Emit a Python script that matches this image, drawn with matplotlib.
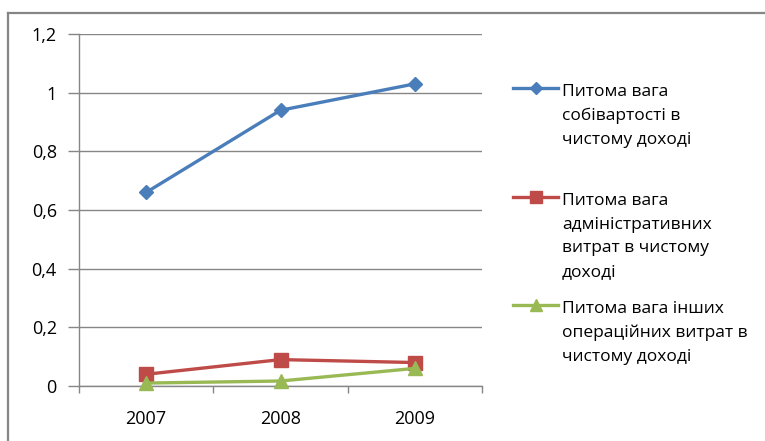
import matplotlib
matplotlib.use("Agg")
import matplotlib.pyplot as plt
from matplotlib.lines import Line2D
from matplotlib.ticker import FixedLocator, FuncFormatter

plt.rcParams['font.family'] = ['Open Sans', 'DejaVu Sans']

years = ["2007", "2008", "2009"]
cost_share = [0.66, 0.94, 1.03]
admin_share = [0.04, 0.09, 0.08]
other_share = [0.01, 0.017, 0.06]
series_labels = [
    "Питома вага\nсобівартості в\nчистому доході",
    "Питома вага\nадміністративних\nвитрат в чистому\nдоході",
    "Питома вага інших\nопераційних витрат в\nчистому доході",
]
y_ticks = [0, 0.2, 0.4, 0.6, 0.8, 1.0, 1.2]

W, H = 765, 441
fig = plt.figure(figsize=(W / 100, H / 100), dpi=100)

def fx(px):
    return px / W

def fy(py):
    return 1 - py / H

# outer chart frame (top and left edges)
grey = "#868686"
fig.add_artist(Line2D([fx(8), fx(8)], [fy(13), fy(441)], color=grey, lw=1.6,
                      transform=fig.transFigure))
fig.add_artist(Line2D([fx(8), fx(765)], [fy(13), fy(13)], color=grey, lw=1.6,
                      transform=fig.transFigure))

left, right, top, bottom = 79, 482, 34, 386
ax = fig.add_axes([fx(left), fy(bottom), fx(right - left), (bottom - top) / H])

x = list(range(len(years)))
styles = [
    (cost_share, "#4A7EBB", "D", 7.5),
    (admin_share, "#BE4B48", "s", 10),
    (other_share, "#98B954", "^", 10.5),
]
for vals, col, mk, ms in styles:
    ax.plot(x, vals, color=col, lw=2.4, marker=mk, markersize=ms,
            markeredgecolor=col, markerfacecolor=col, clip_on=False, zorder=3)

ax.set_xlim(-0.5, len(years) - 0.5)
ax.set_ylim(0, 1.2)
ax.yaxis.set_major_locator(FixedLocator(y_ticks))
ax.yaxis.set_major_formatter(FuncFormatter(lambda v, p: f"{v:g}".replace(".", ",")))
ax.set_xticks(x)
ax.set_xticklabels(years)
ax.set_xticks([i - 0.5 for i in range(len(years) + 1)], minor=True)
ax.tick_params(axis="x", which="major", length=0, pad=17, labelsize=13)
ax.tick_params(axis="x", which="minor", length=5, color=grey, width=1)
ax.tick_params(axis="y", length=8, color=grey, width=1, pad=8, labelsize=13)

ax.grid(axis="y", color=grey, lw=1)
ax.set_axisbelow(True)
for s in ["top", "right"]:
    ax.spines[s].set_visible(False)
for s in ["left", "bottom"]:
    ax.spines[s].set_color(grey)
    ax.spines[s].set_linewidth(1)

# legend drawn beside the plot area
entry_tops = [88, 197, 305]
for (vals, col, mk, ms), label, ty in zip(styles, series_labels, entry_tops):
    fig.add_artist(Line2D([fx(513), fx(558)], [fy(ty), fy(ty)], color=col, lw=2.4,
                          transform=fig.transFigure))
    fig.add_artist(Line2D([fx(535.5)], [fy(ty)], color=col, marker=mk,
                          markersize=ms * 0.85, markeredgecolor=col,
                          markerfacecolor=col, transform=fig.transFigure))
    fig.text(fx(562), fy(ty - 4), label, ha="left", va="top", fontsize=12.5,
             linespacing=1.63, color="#000000")

fig.savefig("out.png", dpi=100)
